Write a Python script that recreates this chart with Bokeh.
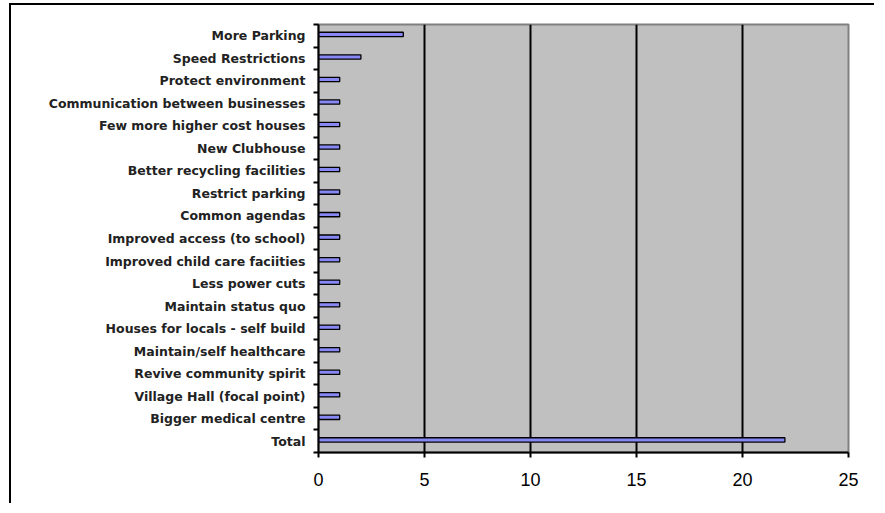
from bokeh.plotting import figure
from bokeh.models import Range1d, FixedTicker, ColumnDataSource
from bokeh.embed import file_html
from bokeh.resources import INLINE

categories = ["More Parking", "Speed Restrictions", "Protect environment",
              "Communication between businesses", "Few more higher cost houses",
              "New Clubhouse", "Better recycling facilities", "Restrict parking",
              "Common agendas", "Improved access (to school)",
              "Improved child care faciities", "Less power cuts",
              "Maintain status quo", "Houses for locals - self build",
              "Maintain/self healthcare", "Revive community spirit",
              "Village Hall (focal point)", "Bigger medical centre", "Total"]
values = [4, 2, 1, 1, 1, 1, 1, 1, 1, 1, 1, 1, 1, 1, 1, 1, 1, 1, 22]
x_ticks = [0, 5, 10, 15, 20, 25]

n = len(categories)
ypos = [n - 1 - i for i in range(n)]
src = ColumnDataSource(dict(y=[v + 0.06 for v in ypos], right=values,
                            left=[0] * n))

p = figure(width=865, height=500, output_backend="svg", toolbar_location=None,
           x_range=Range1d(0, 25), y_range=Range1d(-0.5, n - 0.5))
p.margin = (3, 0, 0, 9)
p.min_border_left = 307
p.min_border_right = 28
p.min_border_top = 19
p.min_border_bottom = 53
p.background_fill_color = "#C0C0C0"
p.border_fill_color = "white"
p.outline_line_color = "#808080"
p.outline_line_width = 2
p.styles = {"border-top": "2px solid black", "border-left": "2px solid black"}

p.hbar(y="y", left="left", right="right", height=0.19, source=src,
       fill_color="#8888F4", line_color="black", line_width=1.3)

p.ygrid.visible = False
p.xgrid.ticker = FixedTicker(ticks=[5, 10, 15, 20])
p.xgrid.grid_line_color = "black"
p.xgrid.grid_line_width = 2

xa = p.xaxis[0]
xa.ticker = FixedTicker(ticks=x_ticks)
xa.axis_line_color = "black"
xa.axis_line_width = 2
xa.major_tick_in = 0
xa.major_tick_out = 5
xa.major_tick_line_width = 2
xa.minor_tick_line_color = None
xa.major_label_text_font = "Liberation Sans"
xa.major_label_text_font_size = "18px"
xa.major_label_text_color = "black"
xa.major_label_standoff = 15

ya = p.yaxis[0]
ya.ticker = FixedTicker(ticks=ypos, minor_ticks=[k - 0.5 for k in range(n + 1)])
ya.major_label_overrides = {ypos[i]: categories[i] for i in range(n)}
ya.axis_line_color = "black"
ya.axis_line_width = 2
ya.major_tick_in = 0
ya.major_tick_out = 0
ya.minor_tick_in = 0
ya.minor_tick_out = 5
ya.minor_tick_line_width = 2
ya.minor_tick_line_color = "black"
ya.major_label_text_font = "DejaVu Sans"
ya.major_label_text_font_style = "bold"
ya.major_label_text_font_size = "12.5px"
ya.major_label_text_color = "#222222"
ya.major_label_standoff = 8

open("out.html", "w").write(file_html(p, INLINE))
